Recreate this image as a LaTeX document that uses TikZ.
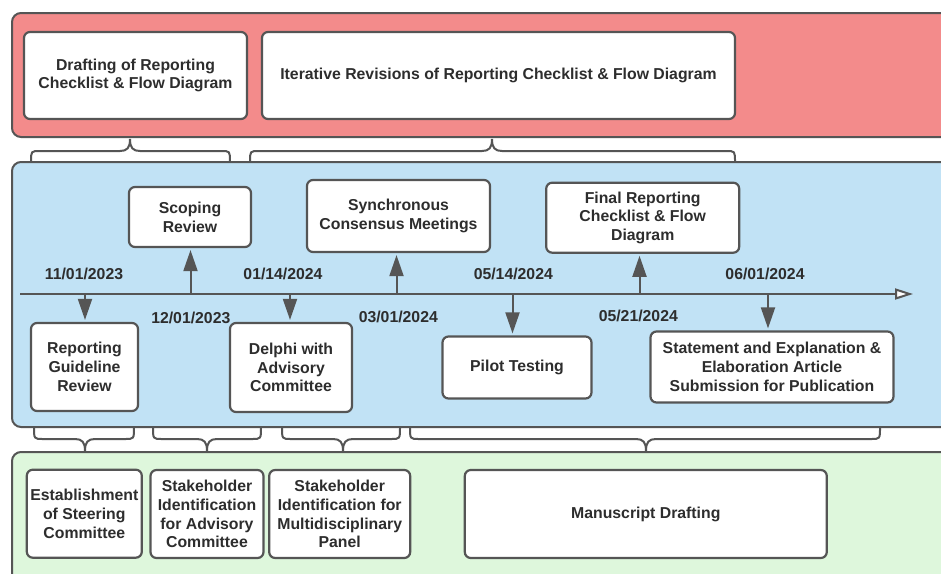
\documentclass[tikz,border=0pt]{standalone}
\usepackage{fontspec}
\setmainfont{Liberation Sans}
\usetikzlibrary{arrows.meta}
\definecolor{redp}{RGB}{243,139,139}
\definecolor{bluep}{RGB}{193,226,245}
\definecolor{greenp}{RGB}{222,247,220}
\definecolor{edge}{RGB}{85,85,85}
\definecolor{txt}{RGB}{45,45,45}
\newcommand\mybrace[7]{%
  \draw[brace] (#1,#4) .. controls (#1,#5) and (#1,#5) .. (#1+9,#5) -- (#2-10,#5)
    .. controls (#2-3,#5) and (#2,#7) .. (#2,#6)
    .. controls (#2,#7) and (#2+3,#5) .. (#2+10,#5) -- (#3-9,#5)
    .. controls (#3,#5) and (#3,#5) .. (#3,#4);}
\begin{document}
\begin{tikzpicture}[x=1pt,y=-1pt,
  panel/.style={draw=edge, line width=2pt, rounded corners=9pt},
  box/.style={draw=edge, fill=white, line width=2.2pt, rounded corners=6pt,
    align=center, inner sep=0pt, text=txt,
    font=\fontsize{15.8}{18.7}\selectfont\bfseries},
  datelbl/.style={text=txt, inner sep=0pt,
    font=\fontsize{15.8}{18.7}\selectfont\bfseries},
  arr/.style={draw=edge, line width=2pt, -{Triangle[length=21pt,width=14pt]}, shorten >=2pt},
  brace/.style={draw=edge, line width=2pt}]
\useasboundingbox (0,0) rectangle (941,573);
\clip (0,0) rectangle (941,573);
\fill[white] (0,0) rectangle (941,573);
% panels
\draw[panel, fill=redp] (12,13) rectangle (970,137);
\draw[panel, fill=bluep] (12,162) rectangle (970,427);
\draw[panel, fill=greenp] (12,452) rectangle (970,620);
% braces
\mybrace{31}{130}{230}{162}{151}{139}{148}
\mybrace{250}{492}{735}{162}{151}{139}{148}
\mybrace{34}{85}{134}{427}{439}{451}{442}
\mybrace{153}{207}{261}{427}{439}{451}{442}
\mybrace{282}{343}{400}{427}{439}{451}{442}
\mybrace{410}{646}{880}{427}{439}{451}{442}
% top boxes
\node[box, minimum width=223pt, minimum height=87pt] (draft) at (135.5,75.5) {Drafting of Reporting\\Checklist \& Flow Diagram};
\node[box, minimum width=473pt, minimum height=87pt] (iter) at (498.5,75.5) {Iterative Revisions of Reporting Checklist \& Flow Diagram};
% timeline
\coordinate (tstart) at (20,294);
\coordinate (tend) at (913,294);
\draw[draw=edge, line width=2pt, -{Triangle[length=18pt,width=11pt,fill=white]}] (tstart) -- (tend);
\coordinate (t1) at (85,294);
\coordinate (t2) at (190.5,294);
\coordinate (t3) at (290,294);
\coordinate (t4) at (396.5,294);
\coordinate (t5) at (512.5,294);
\coordinate (t6) at (639.5,294);
\coordinate (t7) at (768,294);
% timeline boxes
\node[box, minimum width=107pt, minimum height=88pt] (rgr) at (84.5,367) {Reporting\\Guideline\\Review};
\node[box, minimum width=122pt, minimum height=60pt] (scop) at (190,217) {Scoping\\Review};
\node[box, minimum width=122pt, minimum height=89pt] (delphi) at (291,367.5) {Delphi with\\Advisory\\Committee};
\node[box, minimum width=183pt, minimum height=72pt] (sync) at (398.5,216) {Synchronous\\Consensus Meetings};
\node[box, minimum width=149pt, minimum height=62pt] (pilot) at (517,367.5) {Pilot Testing};
\node[box, minimum width=193pt, minimum height=70pt] (final) at (642.7,217.7) {Final Reporting\\Checklist \& Flow\\Diagram};
\node[box, minimum width=243pt, minimum height=71pt] (stmt) at (772,367) {Statement and Explanation \&\\Elaboration Article\\Submission for Publication};
% dates
\node[datelbl] (d1) at (84,274) {11/01/2023};
\node[datelbl] (d2) at (190.8,317.5) {12/01/2023};
\node[datelbl] (d3) at (283,274) {01/14/2024};
\node[datelbl] (d4) at (398.3,317) {03/01/2024};
\node[datelbl] (d5) at (513.3,274) {05/14/2024};
\node[datelbl] (d6) at (638.3,316) {05/21/2024};
\node[datelbl] (d7) at (765,274) {06/01/2024};
% arrows
\draw[arr] (t1) -- (t1 |- rgr.north);
\draw[arr] (t2) -- (t2 |- scop.south);
\draw[arr] (t3) -- (t3 |- delphi.north);
\draw[arr] (t4) -- (t4 |- sync.south);
\draw[arr] (t5) -- (t5 |- pilot.north);
\draw[arr] (t6) -- (t6 |- final.south);
\draw[arr] (t7) -- (t7 |- stmt.north);
% bottom boxes
\node[box, minimum width=115pt, minimum height=88pt] (estab) at (84.3,513.7) {Establishment\\of Steering\\Committee};
\node[box, minimum width=113pt, minimum height=88pt] (stakeA) at (207,514) {Stakeholder\\Identification\\for Advisory\\Committee};
\node[box, minimum width=141pt, minimum height=88pt] (stakeM) at (339.7,514) {Stakeholder\\Identification for\\Multidisciplinary\\Panel};
\node[box, minimum width=362pt, minimum height=88pt] (manu) at (645.8,514) {Manuscript Drafting};
\end{tikzpicture}
\end{document}
